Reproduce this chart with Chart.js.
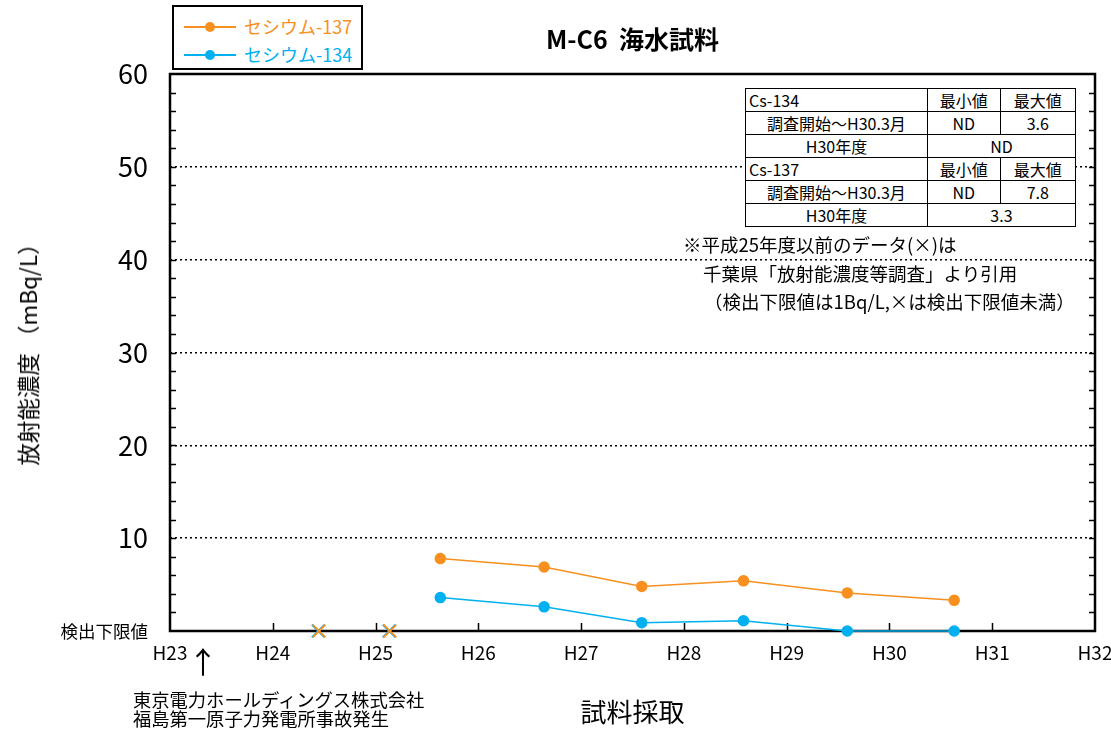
<!DOCTYPE html>
<html lang="ja">
<head>
<meta charset="utf-8">
<script src="https://cdn.jsdelivr.net/npm/chart.js@4.4.1/dist/chart.umd.min.js"></script>
<style>
  html, body { margin: 0; padding: 0; background: #fff; }
  #wrap { position: relative; width: 1111px; height: 729px; font-family: "Noto Sans CJK JP", sans-serif; }
  #graficoCesio { position: absolute; left: 0; top: 0; }
  .leyenda { position: absolute; left: 172px; top: 5px; width: 187px; height: 61px; border: 2px solid #000; background: #fff; }
  .leyenda .fila { position: absolute; left: 10px; height: 20px; font-size: 18px; line-height: 20px; }
  .leyenda .linea { position: absolute; left: 0; top: 9px; width: 52px; height: 2px; }
  .leyenda .punto { position: absolute; left: 21px; top: 5px; width: 10px; height: 10px; border-radius: 50%; }
  .leyenda .txt { position: absolute; left: 60px; top: -1px; white-space: nowrap; }
  table.resumen { position: absolute; left: 745px; top: 88px; width: 331px; border-collapse: collapse; font-size: 16px; background: #fff; }
  table.resumen td { border: 1.5px solid #000; height: 22px; padding: 0; line-height: 22px; text-align: center; }
  table.resumen td.izq { text-align: left; padding-left: 3px; }
  .nota { position: absolute; font-size: 18.5px; white-space: nowrap; line-height: 20px; }
  .tituloY { position: absolute; left: 27px; top: 349px; font-size: 22.5px; white-space: nowrap; transform: translate(-50%, -50%) rotate(-90deg); }
  .flecha { position: absolute; left: 188px; top: 640px; font-size: 30px; line-height: 40px; }
  .accidente { position: absolute; left: 133px; top: 690px; font-size: 18.3px; line-height: 19px; white-space: nowrap; }
</style>
</head>
<body>
<div id="wrap">
  <canvas id="graficoCesio" width="1111" height="729"></canvas>
  <div class="leyenda" id="leyenda"></div>
  <table class="resumen" id="tablaResumen"></table>
  <div class="nota" style="left:683px; top:234px;">※平成25年度以前のデータ(×)は</div>
  <div class="nota" style="left:703px; top:263px;">千葉県「放射能濃度等調査」より引用</div>
  <div class="nota" style="left:704px; top:291px;">（検出下限値は1Bq/L,×は検出下限値未満）</div>
  <div class="tituloY">放射能濃度 （mBq/L）</div>
  <div class="flecha">↑</div>
  <div class="accidente">東京電力ホールディングス株式会社<br>福島第一原子力発電所事故発生</div>
</div>
<script>
// fechas de muestreo (año Heisei) y valores en mBq/L
const fechas = [25.63, 26.64, 27.59, 28.58, 29.59, 30.63];
const cesio137 = [7.8, 6.9, 4.8, 5.4, 4.1, 3.3];
const cesio134 = [3.6, 2.6, 0.9, 1.1, 0, 0];

// datos de Chiba por debajo del limite de deteccion (x)
const fechasND = [24.45, 25.14];
const valoresND = [0, 0];

const etiquetasX = ["H23", "H24", "H25", "H26", "H27", "H28", "H29", "H30", "H31", "H32"];
const etiquetasY = [0, 10, 20, 30, 40, 50, 60];

const colorNaranja = "#f7901e";
const colorAzul = "#00b0f0";

// tabla de minimos y maximos
const filasTabla = [
    ["Cs-134", "最小値", "最大値"],
    ["調査開始～H30.3月", "ND", "3.6"],
    ["H30年度", "ND"],
    ["Cs-137", "最小値", "最大値"],
    ["調査開始～H30.3月", "ND", "7.8"],
    ["H30年度", "3.3"]
];

const series = [
    { nombre: "セシウム-137", color: colorNaranja, datos: cesio137 },
    { nombre: "セシウム-134", color: colorAzul, datos: cesio134 }
];

// leyenda con marco
const leyenda = document.getElementById("leyenda");
series.forEach((s, i) => {
    const fila = document.createElement("div");
    fila.className = "fila";
    fila.style.top = (10 + i * 28) + "px";
    fila.innerHTML = '<div class="linea" style="background:' + s.color + '"></div>' +
        '<div class="punto" style="background:' + s.color + '"></div>' +
        '<div class="txt" style="color:' + s.color + '">' + s.nombre + '</div>';
    leyenda.appendChild(fila);
});

const tabla = document.getElementById("tablaResumen");
filasTabla.forEach(f => {
    const tr = document.createElement("tr");
    f.forEach((c, j) => {
        const td = document.createElement("td");
        td.textContent = c;
        if (c.startsWith("Cs-")) td.className = "izq";
        if (f.length === 2 && j === 1) td.colSpan = 2;
        td.style.width = j === 0 ? "182px" : (j === 1 ? "73px" : "76px");
        tr.appendChild(td);
    });
    tabla.appendChild(tr);
});

// marco del grafico y marcas interiores
const marcoPlugin = {
    id: "marco",
    beforeDatasetsDraw(chart) {
        const { ctx, chartArea: a, scales: { x, y } } = chart;
        ctx.save();
        ctx.strokeStyle = "#000";
        ctx.lineWidth = 1.5;
        ctx.beginPath();
        y.ticks.forEach(t => {
            if (t.value <= 0 || t.value >= 60) return;
            const py = Math.round(y.getPixelForValue(t.value)) + 0.5;
            ctx.moveTo(a.left, py); ctx.lineTo(a.left + 6, py);
            ctx.moveTo(a.right - 6, py); ctx.lineTo(a.right, py);
        });
        x.ticks.forEach(t => {
            if (t.value <= 23 || t.value >= 32) return;
            const px = Math.round(x.getPixelForValue(t.value)) + 0.5;
            ctx.moveTo(px, a.bottom); ctx.lineTo(px, a.bottom - 8);
        });
        ctx.stroke();
        ctx.lineWidth = 2.5;
        ctx.strokeRect(a.left, a.top, a.right - a.left, a.bottom - a.top);
        ctx.restore();
    }
};

const fuenteNum = '"Liberation Sans Narrow", "Noto Sans CJK JP", sans-serif';
const fuenteJp = '"Noto Sans CJK JP", sans-serif';

const ctx = document.getElementById("graficoCesio").getContext("2d");
new Chart(ctx, {
    type: "line",
    data: {
        datasets: [
            {
                label: "Cs-137 ND",
                data: fechasND.map((f, i) => ({ x: f, y: valoresND[i] })),
                showLine: false,
                pointStyle: "crossRot",
                pointRadius: 9,
                borderColor: colorNaranja,
                borderWidth: 2,
                clip: false
            },
            {
                label: "Cs-134 ND",
                data: fechasND.map((f, i) => ({ x: f - 0.008, y: valoresND[i] })),
                showLine: false,
                pointStyle: "crossRot",
                pointRadius: 9,
                borderColor: colorAzul,
                borderWidth: 2,
                clip: false
            },
            {
                label: "セシウム-134",
                data: fechas.map((f, i) => ({ x: f, y: cesio134[i] })),
                borderColor: colorAzul,
                backgroundColor: colorAzul,
                borderWidth: 1.5,
                pointRadius: 5,
                pointHoverRadius: 5,
                clip: false
            },
            {
                label: "セシウム-137",
                data: fechas.map((f, i) => ({ x: f, y: cesio137[i] })),
                borderColor: colorNaranja,
                backgroundColor: colorNaranja,
                borderWidth: 1.5,
                pointRadius: 5,
                pointHoverRadius: 5,
                clip: false
            }
        ]
    },
    options: {
        responsive: false,
        animation: false,
        layout: { padding: { left: 0, right: 16, top: 0, bottom: 0 } },
        plugins: {
            legend: { display: false },
            tooltip: { enabled: false },
            title: {
                display: true,
                text: "M-C6  海水試料",
                fullSize: false,
                color: "#000",
                font: { family: fuenteJp, size: 25, weight: "bold" },
                padding: { top: 24, bottom: 20 }
            }
        },
        scales: {
            x: {
                type: "linear",
                min: 23,
                max: 32,
                afterFit: s => { s.height = 98; s.paddingLeft = 0; s.paddingRight = 0; },
                ticks: {
                    stepSize: 1,
                    autoSkip: false,
                    maxRotation: 0,
                    padding: 10,
                    color: "#000",
                    font: { family: fuenteNum, size: 19 },
                    callback: v => etiquetasX[v - 23]
                },
                grid: { display: false, drawTicks: false },
                border: { display: false },
                title: {
                    display: true,
                    text: "試料採取",
                    color: "#000",
                    font: { family: fuenteJp, size: 26 },
                    padding: { bottom: 1 }
                }
            },
            y: {
                min: 0,
                max: 60,
                afterFit: s => { s.width = 170; s.paddingTop = 0; s.paddingBottom = 0; },
                ticks: {
                    stepSize: 2,
                    autoSkip: false,
                    padding: 22,
                    color: "#000",
                    font: c => (c.tick && c.tick.value === 0)
                        ? { family: fuenteJp, size: 17.5 }
                        : { family: fuenteNum, size: 27 },
                    callback: v => etiquetasY.includes(v) ? (v === 0 ? "検出下限値" : v) : ""
                },
                grid: {
                    drawTicks: false,
                    lineWidth: 1.5,
                    color: c => (c.tick && c.tick.value % 10 === 0 && c.tick.value > 0 && c.tick.value < 60)
                        ? "#000" : "rgba(0,0,0,0)"
                },
                border: { display: false, dash: [2, 3] },
                title: { display: false }
            }
        }
    },
    plugins: [marcoPlugin]
});
</script>
</body>
</html>
